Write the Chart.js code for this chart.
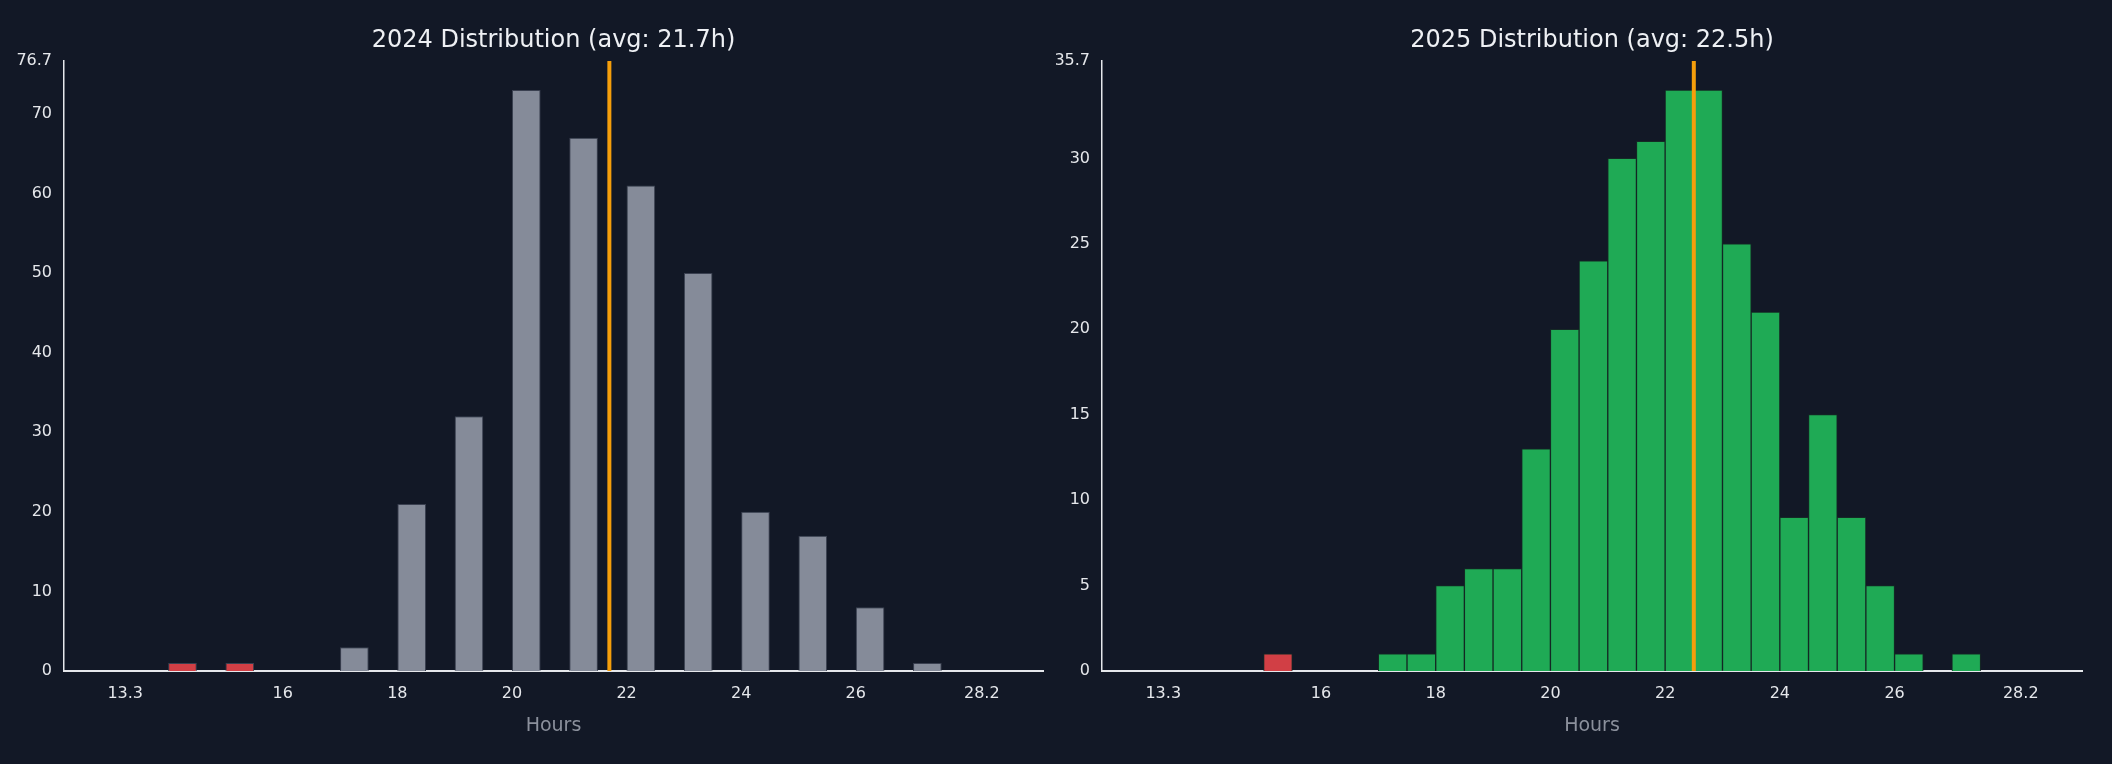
<!DOCTYPE html>
<html>
<head>
<meta charset="utf-8">
<script src="https://cdn.jsdelivr.net/npm/chart.js@4"></script>
<style>
  body { margin: 0; background: #121826; width: 2112px; height: 764px; overflow: hidden; }
  .box { position: absolute; top: 0; width: 1056px; height: 764px; }
</style>
</head>
<body>
<div class="box" style="left:0"><canvas id="c2024"></canvas></div>
<div class="box" style="left:1056px"><canvas id="c2025"></canvas></div>
<script>
// 2024: bin start (hours), bin width 0.5
const bins2024 = [14, 15, 17, 18, 19, 20, 21, 22, 23, 24, 25, 26, 27];
const counts2024 = [1, 1, 3, 21, 32, 73, 67, 61, 50, 20, 17, 8, 1];
const avg2024 = 21.7;

const bins2025 = [15, 17, 17.5, 18, 18.5, 19, 19.5, 20, 20.5, 21, 21.5, 22, 22.5, 23, 23.5, 24, 24.5, 25, 25.5, 26, 27];
const counts2025 = [1, 1, 1, 5, 6, 6, 13, 20, 24, 30, 31, 34, 34, 25, 21, 9, 15, 9, 5, 1, 1];
const avg2025 = 22.5;

const RED = '#d13f45';

const avgLine = {
  id: 'avgLine',
  afterDatasetsDraw(chart, args, opts) {
    const { ctx, chartArea, scales } = chart;
    const x = scales.x.getPixelForValue(opts.value);
    ctx.save();
    ctx.strokeStyle = '#f59e0b';
    ctx.lineWidth = 4;
    ctx.beginPath();
    ctx.moveTo(x, chartArea.top);
    ctx.lineTo(x, chartArea.bottom);
    ctx.stroke();
    // title centred over the plot area
    ctx.fillStyle = '#eef0f4';
    ctx.font = '24px "DejaVu Sans"';
    ctx.textAlign = 'center';
    ctx.textBaseline = 'middle';
    ctx.fillText(opts.title, (chartArea.left + chartArea.right) / 2, 41);
    ctx.restore();
  }
};

function makeChart(id, bins, counts, avg, color, border, barPct, yMax, yStep, axisW, pad) {
  const data = bins.map((b, i) => ({ x: b + 0.25, y: counts[i] }));
  new Chart(document.getElementById(id), {
    type: 'bar',
    data: {
      datasets: [{
        data: data,
        backgroundColor: bins.map(b => b < 16 ? RED : color),
        borderColor: border,
        borderWidth: 1,
        barPercentage: barPct,
        categoryPercentage: 1
      }]
    },
    options: {
      responsive: false,
      animation: false,
      layout: { padding: pad },
      plugins: {
        legend: { display: false },
        tooltip: { enabled: false },
        avgLine: { value: avg, title: `${id.slice(1)} Distribution (avg: ${avg}h)` }
      },
      scales: {
        x: {
          type: 'linear',
          min: 13.25,
          max: 28.2,
          grid: { display: false, drawTicks: true, tickLength: 7, tickColor: '#e5e7eb' },
          border: { color: '#e5e7eb', width: 2 },
          ticks: { stepSize: 2, color: '#e5e7eb', font: { size: 16, family: 'DejaVu Sans' }, padding: 6 },
          title: { display: true, text: 'Hours', color: '#8b909c', font: { size: 19, family: 'DejaVu Sans' }, padding: { top: 6 } },
          afterFit: s => { s.height = 70; }
        },
        y: {
          min: 0,
          max: yMax,
          grid: { display: false, drawTicks: true, tickLength: 6, tickColor: '#e5e7eb' },
          border: { color: '#e5e7eb', width: 1.5 },
          ticks: { stepSize: yStep, color: '#e5e7eb', font: { size: 16, family: 'DejaVu Sans' }, padding: 6 },
          afterFit: s => { s.width = axisW; }
        }
      }
    },
    plugins: [avgLine]
  });
}

document.getElementById('c2024').width = 1056;
document.getElementById('c2024').height = 764;
document.getElementById('c2025').width = 1056;
document.getElementById('c2025').height = 764;

makeChart('c2024', bins2024, counts2024, avg2024, '#858b99', '#3a4050', 0.5, 76.65, 10, 64, { top: 61, right: 13, bottom: 23, left: 0 });
makeChart('c2025', bins2025, counts2025, avg2025, '#1faa55', '#152a25', 1, 35.7, 5, 46, { top: 61, right: 30, bottom: 23, left: 0 });
</script>
</body>
</html>
